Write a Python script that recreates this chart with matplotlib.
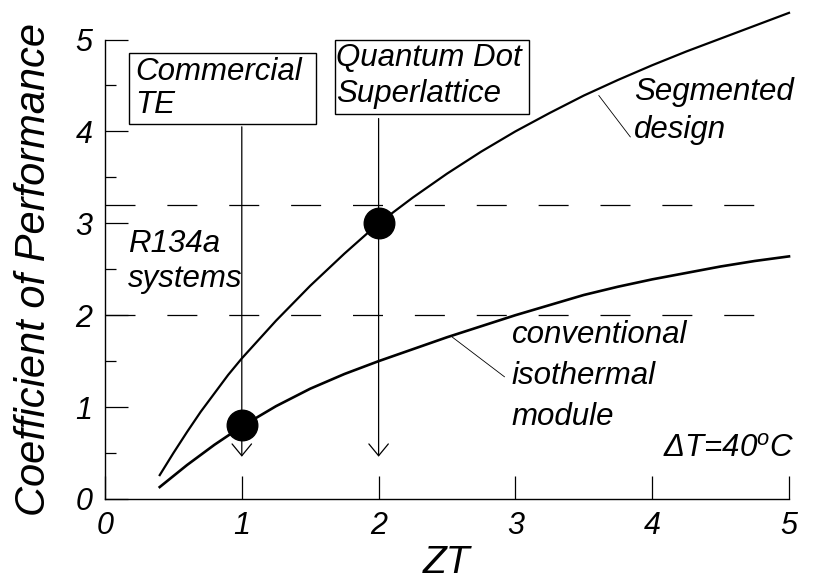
import matplotlib
matplotlib.use("Agg")
import matplotlib.pyplot as plt
from matplotlib.ticker import MultipleLocator

plt.rcParams['font.family'] = ['Liberation Sans', 'DejaVu Sans']
plt.rcParams['font.style'] = 'italic'
plt.rcParams['mathtext.fontset'] = 'custom'
plt.rcParams['mathtext.rm'] = 'Liberation Sans:italic'
plt.rcParams['mathtext.it'] = 'Liberation Sans:italic'

# COP vs ZT, dT = 40 C
zt_seg = [0.40, 0.50, 0.60, 0.70, 0.80, 0.90, 1.00, 1.25, 1.50, 1.75, 2.00,
          2.25, 2.50, 2.75, 3.00, 3.25, 3.50, 3.75, 4.00, 4.25, 4.50, 4.75,
          5.00]
cop_seg = [0.26, 0.50, 0.73, 0.95, 1.15, 1.35, 1.53, 1.94, 2.32, 2.67, 3.00,
           3.28, 3.54, 3.78, 4.00, 4.20, 4.39, 4.56, 4.72, 4.87, 5.01, 5.15,
           5.29]
zt_conv = [0.40, 0.50, 0.60, 0.70, 0.80, 0.90, 1.00, 1.25, 1.50, 1.75, 2.00,
           2.25, 2.50, 2.75, 3.00, 3.25, 3.50, 3.75, 4.00, 4.25, 4.50, 4.75,
           5.00]
cop_conv = [0.13, 0.25, 0.37, 0.48, 0.59, 0.69, 0.79, 1.01, 1.20, 1.36, 1.50,
            1.63, 1.76, 1.88, 2.00, 2.11, 2.22, 2.31, 2.39, 2.46, 2.53, 2.59,
            2.64]

# R134a band and the two highlighted materials
r134a_levels = [3.2, 2.0]
r134a_end = 4.75
marker_zt = [1.0, 2.0]
marker_cop = [0.8, 3.0]
arrow_top = [4.05, 4.14]
arrow_tip = 0.46

fig = plt.figure(figsize=(8.14, 5.85), dpi=100)
ax = fig.add_axes([105 / 814, 1 - 499 / 585, 684 / 814, 459.5 / 585])

ax.plot(zt_seg, cop_seg, color='black', lw=1.6, clip_on=False, zorder=3)
ax.plot(zt_conv, cop_conv, color='black', lw=1.9, clip_on=False, zorder=3)

for lev in r134a_levels:
    ax.plot([0, r134a_end], [lev, lev], color='black', lw=0.9,
            linestyle=(0, (24, 25.5)), zorder=2)

for x, top in zip(marker_zt, arrow_top):
    ax.annotate('', xy=(x, arrow_tip), xytext=(x, top),
                arrowprops=dict(arrowstyle='->,head_length=0.85,head_width=0.7',
                                lw=0.9, color='black', shrinkA=0, shrinkB=0,
                                mutation_scale=10), zorder=2)

ax.plot(marker_zt, marker_cop, 'o', color='black', ms=22, zorder=4,
        linestyle='none')

# boxed labels
for x0, y0, w, h in [(0.175, 4.08, 1.365, 0.77), (1.68, 4.19, 1.42, 0.80)]:
    ax.add_patch(plt.Rectangle((x0, y0), w, h, fill=False, lw=1.0,
                               edgecolor='black', zorder=5, clip_on=False))


def label(x, y, lines, step, size=22.5, ha='left'):
    for i, s in enumerate(lines):
        ax.annotate(s, xy=(x, y), xytext=(0, -i * step),
                    textcoords='offset points', ha=ha, va='baseline',
                    fontsize=size, annotation_clip=False, zorder=6)


label(0.22, 4.56, ['Commercial', 'TE'], 24)
label(1.69, 4.71, ['Quantum Dot', 'Superlattice'], 26)
label(0.17, 2.69, ['R134a', 'systems'], 25)
label(3.87, 4.34, ['Segmented', 'design'], 27.5)
label(2.975, 1.70, ['conventional', 'isothermal', 'module'], 29.5)
label(5.04, 0.46, [r'$\Delta$T=40$^{\rm o}$C'], 0, ha='right')

# leader lines to the curves
ax.plot([3.61, 3.84], [4.39, 3.94], color='black', lw=0.6)
ax.plot([2.54, 2.92], [1.76, 1.33], color='black', lw=0.6)

ax.set_xlim(0, 5)
ax.set_ylim(0, 5)
ax.spines['top'].set_visible(False)
ax.spines['right'].set_visible(False)
for sp in ('left', 'bottom'):
    ax.spines[sp].set_linewidth(1.0)

ax.xaxis.set_major_locator(MultipleLocator(1))
ax.yaxis.set_major_locator(MultipleLocator(1))
ax.yaxis.set_minor_locator(MultipleLocator(0.5))
ax.tick_params(which='major', direction='in', length=16.5, width=0.9,
               labelsize=22, pad=9)
ax.tick_params(which='minor', direction='in', length=8, width=0.9)

ax.set_xlabel('ZT', fontsize=28)
ax.set_ylabel('Coefficient of Performance', fontsize=30)
ax.yaxis.set_label_coords(-0.075, 0.5)
ax.xaxis.set_label_coords(0.5, -0.1)

fig.savefig('out.png', dpi=100)
